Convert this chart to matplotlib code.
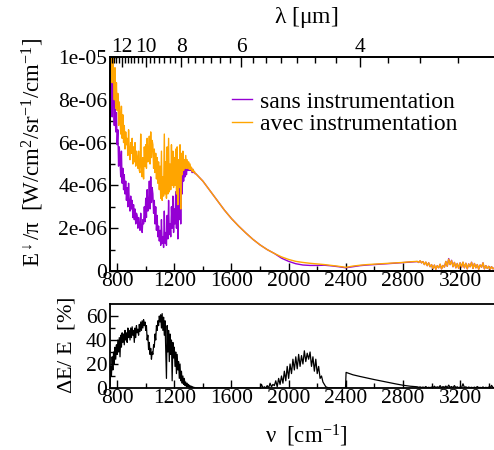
import numpy as np
import matplotlib
matplotlib.use("Agg")
import matplotlib.pyplot as plt

plt.rcParams['font.family'] = ['Liberation Serif', 'DejaVu Serif']
plt.rcParams['mathtext.fontset'] = 'custom'
plt.rcParams['mathtext.rm'] = 'Liberation Serif'
plt.rcParams['mathtext.it'] = 'Liberation Serif:italic'
plt.rcParams['mathtext.sf'] = 'Liberation Serif'

# ---------------- data (irradiance in 1e-6 W/cm2/sr/cm-1) ----------------
# noisy window region, 750-1345 cm-1 every 5 cm-1
nu_low = np.arange(750, 1350, 5)
sans_low = [
    9.4, 8.1, 8.9, 7.2, 9.6, 7.9, 6.8, 8.3, 6.5, 7.4,
    5.9, 6.6, 4.9, 5.8, 5.2, 4.4, 5.6, 4.1, 4.8, 3.8,
    4.5, 3.6, 4.2, 3.3, 3.9, 3.0, 4.1, 3.2, 2.8, 3.5,
    2.9, 3.3, 2.5, 3.1, 2.4, 2.9, 2.2, 2.7, 2.6, 2.0,
    2.5, 2.1, 1.9, 2.7, 2.0, 1.8, 2.4, 2.2, 3.0, 2.3,
    3.4, 2.5, 3.8, 2.8, 3.1, 4.2, 2.9, 4.4, 3.2, 3.9,
    3.6, 2.7, 3.3, 2.2, 3.0, 1.9, 2.6, 1.6, 2.1, 1.4,
    1.9, 1.2, 2.4, 1.3, 1.6, 1.1, 2.8, 1.3, 1.8, 1.2,
    2.6, 1.5, 3.3, 1.7, 2.2, 1.6, 3.0, 2.0, 3.5, 1.8,
    2.9, 2.2, 3.7, 2.0, 4.1, 1.5, 3.3, 2.4, 4.6, 2.2,
    4.9, 3.6, 5.1, 4.2, 4.8, 4.4, 5.1, 4.5, 4.9, 4.7,
    5.0, 4.7, 4.9, 4.7, 4.8, 4.6, 4.75, 4.6, 4.65, 4.55,
]
avec_low = [
    10.5, 9.4, 10.3, 8.8, 10.1, 9.2, 8.0, 9.5, 7.6, 8.8,
    7.5, 8.3, 6.8, 7.9, 7.1, 6.4, 7.7, 6.2, 7.3, 6.0,
    6.8, 5.7, 6.5, 5.9, 6.2, 5.4, 6.6, 5.6, 5.2, 6.0,
    5.5, 6.2, 5.0, 5.8, 5.1, 6.0, 4.9, 5.6, 5.3, 4.8,
    5.6, 4.7, 4.6, 6.4, 4.9, 4.4, 5.3, 4.3, 5.8, 4.9,
    5.9, 4.8, 6.2, 5.1, 5.4, 6.3, 5.0, 6.5, 5.3, 6.1,
    5.9, 4.8, 5.7, 4.6, 5.5, 4.3, 5.3, 4.1, 5.1, 3.8,
    4.9, 3.4, 5.6, 3.3, 4.4, 3.5, 6.4, 3.6, 5.1, 3.4,
    5.8, 3.6, 6.2, 3.7, 5.0, 3.8, 5.9, 4.0, 5.6, 3.9,
    5.3, 4.0, 5.7, 3.6, 5.8, 3.1, 5.2, 3.9, 5.9, 2.9,
    5.5, 4.5, 5.6, 4.7, 5.2, 4.8, 5.4, 4.8, 5.2, 4.8,
    5.1, 4.75, 5.0, 4.75, 4.85, 4.65, 4.75, 4.62, 4.66, 4.56,
]

# smooth part, 1350-2850 cm-1 every 50 cm-1
nu_mid = np.arange(1350, 2900, 50)
sans_mid = [4.55, 4.2, 3.75, 3.3, 2.85, 2.45, 2.1, 1.78, 1.48, 1.22,
            1.0, 0.82, 0.60, 0.45, 0.34, 0.28, 0.26, 0.26, 0.27, 0.24,
            0.20, 0.15, 0.20, 0.25, 0.28, 0.30, 0.32, 0.345, 0.37, 0.39,
            0.42]
avec_mid = [4.55, 4.2, 3.75, 3.3, 2.85, 2.45, 2.1, 1.78, 1.48, 1.22,
            1.0, 0.82, 0.66, 0.54, 0.45, 0.40, 0.36, 0.33, 0.30, 0.26,
            0.22, 0.17, 0.23, 0.27, 0.30, 0.32, 0.34, 0.36, 0.38, 0.40,
            0.43]

# noisy high wavenumber part, 2900-3440 cm-1 every 10 cm-1
nu_high = np.arange(2900, 3450, 10)
sans_high = [
    0.44, 0.40, 0.47, 0.38, 0.44, 0.30, 0.41, 0.25, 0.38, 0.20,
    0.30, 0.12, 0.27, 0.08, 0.25, 0.15, 0.31, 0.10, 0.26, 0.18,
    0.44, 0.22, 0.58, 0.30, 0.50, 0.20, 0.40, 0.15, 0.35, 0.12,
    0.38, 0.18, 0.40, 0.15, 0.36, 0.10, 0.33, 0.20, 0.41, 0.12,
    0.35, 0.15, 0.30, 0.08, 0.28, 0.18, 0.38, 0.10, 0.25, 0.12,
    0.22, 0.08, 0.20, 0.10, 0.15,
]
avec_high = [
    0.45, 0.40, 0.48, 0.38, 0.44, 0.30, 0.42, 0.25, 0.38, 0.20,
    0.30, 0.12, 0.28, 0.08, 0.25, 0.15, 0.32, 0.10, 0.26, 0.18,
    0.45, 0.22, 0.55, 0.30, 0.48, 0.20, 0.40, 0.15, 0.35, 0.12,
    0.38, 0.18, 0.42, 0.15, 0.36, 0.10, 0.33, 0.20, 0.40, 0.12,
    0.35, 0.15, 0.30, 0.08, 0.28, 0.18, 0.38, 0.10, 0.25, 0.12,
    0.22, 0.08, 0.20, 0.10, 0.15,
]

# relative difference dE/E in percent
de_nu_a = np.arange(750, 1350, 5)
de_a = [
    2, 18, 10, 26, 15, 30, 20, 34, 24, 36,
    28, 40, 30, 42, 26, 44, 34, 46, 38, 45,
    36, 48, 40, 46, 38, 50, 42, 48, 40, 50,
    42, 51, 44, 48, 38, 50, 42, 52, 46, 49,
    44, 53, 47, 55, 48, 56, 50, 57, 52, 55,
    48, 52, 40, 44, 32, 38, 28, 33, 24, 30,
    28, 36, 34, 45, 40, 52, 48, 56, 52, 60,
    55, 61, 50, 62, 48, 59, 44, 56, 30, 8,
    52, 30, 48, 22, 45, 28, 40, 6, 38, 25,
    34, 18, 30, 12, 28, 15, 22, 8, 20, 6,
    14, 4, 10, 3, 8, 2, 5, 1, 4, 1,
    3, 0.5, 2, 0.3, 1.5, 0.2, 1, 0, 0.5, 0,
]
de_nu_b = [1350, 1500, 1700, 1790]
de_b = [0, 0, 0, 0]
de_nu_c = np.arange(1800, 2300, 10)
de_c = [
    0, 3, 0, 1, 0, 2, 0, 4, 1, 3,
    2, 6, 1, 8, 3, 10, 4, 14, 6, 18,
    8, 20, 12, 24, 15, 26, 16, 28, 18, 27,
    20, 31, 22, 29, 24, 30, 18, 26, 14, 24,
    12, 18, 8, 10, 5, 3, 1, 0.5, 0, 0,
]
de_nu_d = [2300, 2350, 2398, 2402, 2450, 2500, 2550, 2600, 2650, 2700,
           2750, 2800, 2850]
de_d = [0, 0, 0, 13.0, 11.0, 9.6, 8.3, 7.0, 5.8, 4.6, 3.4, 2.3, 1.5]
de_nu_e = np.arange(2900, 3450, 10)
de_e = [
    1.0, 0.6, 0.9, 0.4, 0.8, 0.3, 1.2, 0.2, 0.6, 0.3,
    0.8, 0.2, 1.5, 0.3, 1.0, 0.4, 2.0, 0.2, 1.2, 0.5,
    1.6, 0.3, 2.4, 0.5, 1.2, 0.3, 2.0, 0.4, 1.0, 0.2,
    0.8, 0.3, 3.5, 0.4, 1.0, 0.2, 0.8, 0.3, 0.6, 0.2,
    0.7, 0.2, 1.2, 0.3, 0.5, 0.2, 0.9, 0.1, 0.6, 0.2,
    0.8, 0.2, 2.2, 0.3, 0.5,
]

# axis ticks
nu_ticks = [800, 1200, 1600, 2000, 2400, 2800, 3200]
nu_minor = [1000, 1400, 1800, 2200, 2600, 3000, 3400]
lam_ticks = [12, 10, 8, 6, 4]
irr_ticks = [0, 2e-6, 4e-6, 6e-6, 8e-6, 1e-5]
irr_labels = ['0', '2e-06', '4e-06', '6e-06', '8e-06', '1e-05']
de_ticks = [0, 20, 40, 60]

PURPLE = '#9400D3'
ORANGE = '#FFA500'
FS = 15.5
LFS = 16.5

nu = np.concatenate([nu_low, nu_mid, nu_high])
sans = np.concatenate([sans_low, sans_mid, sans_high]) * 1e-6
avec = np.concatenate([avec_low, avec_mid, avec_high]) * 1e-6
de_nu = np.concatenate([de_nu_a, de_nu_b, de_nu_c, de_nu_d, de_nu_e])
de = np.concatenate([de_a, de_b, de_c, de_d, de_e])

W, H = 494, 450
fig = plt.figure(figsize=(W / 100, H / 100), dpi=100)
XL = (750, 3500)


def frac_box(x0, y0, x1, y1):
    return [x0 / W, 1 - y1 / H, (x1 - x0) / W, (y1 - y0) / H]


ax = fig.add_axes(frac_box(110, 57, 503, 271))
ax2 = fig.add_axes(frac_box(110, 304, 503, 388))

# spectra
ax.plot(nu, sans, color=PURPLE, lw=1.0, label='sans instrumentation')
ax.plot(nu, avec, color=ORANGE, lw=1.0, label='avec instrumentation')
ax.set_xlim(*XL)
ax.set_ylim(0, 1e-5)
ax.set_xticks(nu_ticks)
ax.set_xticks(nu_minor, minor=True)
ax.set_xticklabels([str(t) for t in nu_ticks])
ax.set_yticks(irr_ticks)
ax.set_yticklabels(irr_labels)
ax.set_yticks([1e-6, 3e-6, 5e-6, 7e-6, 9e-6], minor=True)

# wavelength axis on top
axt = ax.twiny()
axt.set_xlim(*XL)
axt.set_xticks([1e4 / l for l in lam_ticks])
axt.set_xticklabels([str(l) for l in lam_ticks])
lam_minor = []
for a in lam_ticks + [14]:
    for k in range(1, 7):
        lam_minor.append(a - 2 * k / 7)
lam_minor = [1e4 / l for l in lam_minor if 1e4 / l > XL[0] and 1e4 / l < 3445]
axt.set_xticks(lam_minor, minor=True)

# relative difference
ax2.plot(de_nu, de, color='black', lw=0.9)
ax2.set_xlim(*XL)
ax2.set_ylim(0, 70)
ax2.set_xticks(nu_ticks)
ax2.set_xticks(nu_minor, minor=True)
ax2.set_xticklabels([str(t) for t in nu_ticks])
ax2.set_yticks(de_ticks)
ax2.set_yticklabels([str(t) for t in de_ticks])
ax2.set_yticks([10, 30, 50], minor=True)

for a in (ax, ax2, axt):
    for s in a.spines.values():
        s.set_linewidth(1.3)
    a.tick_params(which='both', direction='in', labelsize=FS, width=1.0,
                  pad=2)
    a.tick_params(which='major', length=6)
    a.tick_params(which='minor', length=3.5)
ax.tick_params(axis='x', pad=1)
ax2.tick_params(axis='x', pad=1)
axt.tick_params(axis='x', which='major', length=7, pad=0)
axt.tick_params(axis='x', which='minor', length=4)

# labels
fig.text(33 / W, 1 - 152 / H,
         r'$\mathrm{E}^{\downarrow}/\mathrm{\pi}\ \ [\mathrm{W/cm}^{2}/\mathrm{sr}^{-1}/\mathrm{cm}^{-1}]$',
         rotation=90, ha='center', va='center', fontsize=LFS)
fig.text(66 / W, 1 - 345 / H, r'$\Delta\mathrm{E/\ E\ \ [\%]}$',
         rotation=90, ha='center', va='center', fontsize=16)
fig.text(306 / W, 1 - 436 / H, r'$\mathrm{\nu\ \ [cm}^{-1}\mathrm{]}$',
         ha='center', va='center', fontsize=LFS)
fig.text(306 / W, 1 - 18 / H, r'$\mathrm{\lambda\ [\mu m]}$',
         ha='center', va='center', fontsize=17)

fig.legend(loc='upper left', bbox_to_anchor=(232 / W, 1 - 91 / H),
           frameon=False, fontsize=17, handlelength=0.85,
           handletextpad=0.35, labelspacing=0.05, borderpad=0,
           borderaxespad=0)

fig.savefig('out.png', dpi=100)
